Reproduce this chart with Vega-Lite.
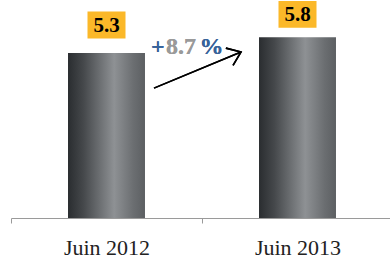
{
  "$schema": "https://vega.github.io/schema/vega-lite/v6.json",
  "width": 382,
  "height": 218,
  "autosize": {"type": "none"},
  "padding": {"left": 11, "top": 0, "right": 0, "bottom": 40},
  "background": "white",
  "config": {"view": {"stroke": null}},
  "data": {"values": [
    {"period": "Juin 2012", "value": 5.3, "label": "5.3"},
    {"period": "Juin 2013", "value": 5.8, "label": "5.8"}
  ]},
  "layer": [
    {
      "mark": {"type": "bar", "width": {"band": 0.403},
        "color": {"gradient": "linear", "x1": 0, "x2": 1, "y1": 0, "y2": 0,
          "stops": [
            {"offset": 0, "color": "#2a2d30"},
            {"offset": 0.2, "color": "#45484b"},
            {"offset": 0.6, "color": "#8e9194"},
            {"offset": 0.85, "color": "#6b6e71"},
            {"offset": 1, "color": "#5c5f62"}
          ]}},
      "encoding": {
        "x": {"field": "period", "type": "nominal", "sort": null,
          "scale": {"paddingInner": 0, "paddingOuter": 0},
          "axis": {"title": null, "labelAngle": 0, "labelFont": "Times New Roman", "labelFontSize": 22,
            "labelColor": "#222222", "labelPadding": 14, "labelBaseline": "top",
            "domainColor": "#9a9a9a", "tickColor": "#9a9a9a", "tickSize": 5, "tickBand": "extent", "grid": false}},
        "y": {"field": "value", "type": "quantitative", "scale": {"domain": [0, 7]}, "axis": null}
      }
    },
    {
      "mark": {"type": "point", "shape": "M-1,-0.71H1V0.71H-1Z", "filled": true, "color": "#fbb829", "opacity": 1, "size": 1444,
        "yOffset": {"expr": "datum.period === 'Juin 2012' ? -28 : -23"}},
      "encoding": {
        "x": {"field": "period", "type": "nominal", "sort": null},
        "y": {"field": "value", "type": "quantitative"}
      }
    },
    {
      "mark": {"type": "text", "font": "Times New Roman", "fontWeight": "bold", "fontSize": 21, "color": "#000000",
        "baseline": "middle", "align": "center",
        "yOffset": {"expr": "datum.period === 'Juin 2012' ? -27 : -22"}},
      "encoding": {
        "x": {"field": "period", "type": "nominal", "sort": null},
        "y": {"field": "value", "type": "quantitative"},
        "text": {"field": "label"}
      }
    },
    {
      "mark": {"type": "text", "text": "+", "font": "Times New Roman", "fontWeight": "bold", "fontSize": 24,
        "color": "#37639a", "align": "left", "baseline": "alphabetic", "xOffset": 44.5},
      "encoding": {"x": {"datum": "Juin 2012"}, "y": {"datum": 5.27}}
    },
    {
      "mark": {"type": "text", "text": "8.7", "font": "Times New Roman", "fontWeight": "bold", "fontSize": 24,
        "color": "#9a9a9a", "align": "left", "baseline": "alphabetic", "xOffset": 59.5},
      "encoding": {"x": {"datum": "Juin 2012"}, "y": {"datum": 5.27}}
    },
    {
      "mark": {"type": "text", "text": "%", "font": "Times New Roman", "fontWeight": "bold", "fontSize": 24,
        "color": "#37639a", "align": "left", "baseline": "alphabetic", "xOffset": 93},
      "encoding": {"x": {"datum": "Juin 2012"}, "y": {"datum": 5.27}}
    },
    {
      "mark": {"type": "rule", "color": "#000000", "strokeWidth": 1.6, "xOffset": 47.5, "x2Offset": -56.5},
      "encoding": {
        "x": {"datum": "Juin 2012", "bandPosition": 0.5},
        "x2": {"datum": "Juin 2013", "bandPosition": 0.5},
        "y": {"datum": 4.17},
        "y2": {"datum": 5.33}
      }
    },
    {
      "mark": {"type": "point", "shape": "M-1,-0.75L0,0L-1,0.75", "filled": false, "color": "#000000", "opacity": 1,
        "strokeWidth": 1.6, "size": 625, "angle": -22.5, "xOffset": -56.5},
      "encoding": {"x": {"datum": "Juin 2013"}, "y": {"datum": 5.33}}
    }
  ]
}
